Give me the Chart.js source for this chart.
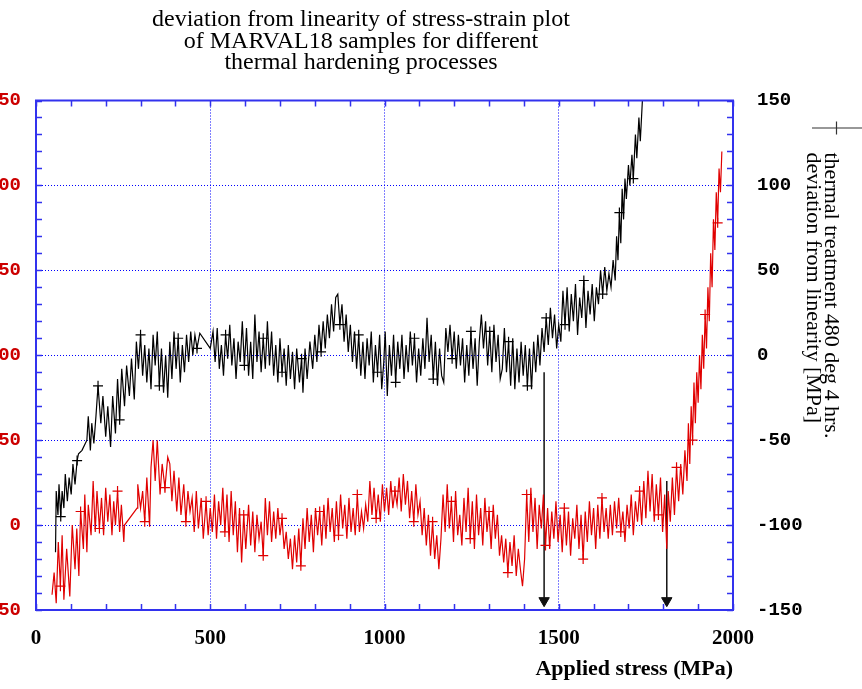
<!DOCTYPE html>
<html>
<head>
<meta charset="utf-8">
<script src="https://cdn.jsdelivr.net/npm/chart.js@4.4.0/dist/chart.umd.min.js"></script>
<style>
  html, body { margin: 0; padding: 0; background: #fff; overflow: hidden; }
  #wrap { position: relative; width: 862px; height: 689px; overflow: hidden; }
  #plot { position: absolute; left: -140px; top: 0; }
</style>
</head>
<body>
<div id="wrap"><canvas id="plot" width="1002" height="689"></canvas></div>
<script>
// thermal treatment 480 deg 4 hrs. (right axis)
const blackStress = [56,58,63,66,71,75,80,84,90,95,101,106,112,118,122,132,146,150,156,160,166,172,178,186,192,200,206,214,220,228,234,240,246,254,260,268,274,282,288,294,300,
  306,312,318,324,330,336,342,348,354,360,366,372,378,384,390,396,402,408,414,420,426,432,438,444,450,456,462,470,500,
  508,514,520,526,532,538,544,550,556,562,568,574,580,586,592,598,604,610,616,622,628,634,640,646,652,658,664,670,676,682,688,694,700,706,712,718,724,730,736,742,748,756,762,766,772,778,786,794,
  800,806,812,818,824,830,836,842,848,854,860,866,872,878,884,890,896,902,908,914,920,926,932,938,944,950,956,962,968,974,980,986,992,998,
  1002,1008,1014,1020,1026,1032,1038,1044,1050,1056,1062,1068,1074,1080,1086,1092,1098,1104,1110,1116,1122,1128,1134,1140,1146,1152,1158,1164,1170,1176,1182,1188,1194,
  1200,1206,1212,1218,1224,1230,1236,1242,1248,1254,1260,1266,1272,1278,1284,1290,1296,1302,1308,1314,1320,1326,1332,1338,1344,1350,1356,1362,1368,1374,1380,1386,1392,1398,
  1404,1410,1416,1422,1428,1434,1440,1446,1452,1458,1464,1470,1476,1482,1488,1494,1500,1506,1512,1518,1524,1530,1536,1542,1548,1554,1560,1566,1572,1578,1584,1590,1596,
  1602,1608,1614,1620,1626,1632,1638,1644,1650,1656,1662,1666,1670,1674,1678,1682,1686,1690,1694,1700,1704,1710,1714,1720,1724,1730,1734,1740,1745];
const blackDev = [-116,-80,-94,-76,-95,-80,-90,-70,-86,-72,-82,-64,-76,-62,-58,-56,-50,-36,-56,-40,-52,-36,-18,-40,-24,-48,-30,-54,-24,-46,-14,-38,-8,-30,-6,-24,-2,-26,8,-8,12,
  -12,6,-16,4,-20,12,-6,14,-18,4,-22,0,-25,8,-14,14,-8,10,-16,6,-10,12,-4,14,0,12,4,13,4,
  14,-4,16,-8,6,-12,12,-2,18,-6,10,-14,8,-4,20,-6,16,-12,8,-14,24,-4,14,-10,10,-8,20,-6,14,-12,6,-16,10,-10,4,-18,6,-14,2,-20,4,-16,-2,-22,4,-14,8,-8,
  12,-4,18,2,20,4,24,10,30,14,34,36,18,30,8,24,2,18,-4,14,-8,12,-12,8,-14,10,-6,14,-16,6,-10,12,-20,-4,
  14,-24,6,-12,12,-16,8,-8,12,-14,6,-10,14,-6,10,-16,4,-12,10,-8,22,-4,12,-14,8,-18,4,-12,-16,16,2,18,-2,
  14,-8,12,-6,10,-16,6,-12,14,-8,10,-18,8,24,4,20,-6,14,-10,18,-4,12,-14,-8,16,-10,8,-18,10,-20,4,-16,8,-12,
  6,-18,4,-20,8,-10,12,-6,16,2,22,6,28,10,24,4,18,8,38,18,40,14,36,20,42,12,34,22,44,16,38,24,42,
  20,40,30,50,36,52,38,48,40,56,44,70,56,84,66,98,80,104,92,112,100,118,104,130,116,140,126,150,158];

// thermal treatment, second process (left axis)
const redStress = [46,52,58,64,70,75,80,88,97,104,112,117,123,128,136,140,146,150,158,164,170,175,182,188,194,200,206,212,218,223,228,234,240,245,252,254,290,292,
  300,306,312,318,326,330,336,342,348,356,362,370,378,384,390,396,404,410,416,424,430,436,442,448,454,460,466,474,480,488,494,
  500,506,512,518,524,530,536,542,548,554,560,566,572,578,584,590,596,602,610,616,622,628,634,640,646,652,658,664,670,676,682,688,694,
  700,706,712,718,724,730,736,742,748,754,760,766,772,778,784,790,796,802,808,814,820,826,832,838,844,850,856,862,868,874,880,886,892,898,
  904,910,916,922,928,934,940,946,952,958,964,970,976,982,988,994,1000,1006,1012,1018,1024,1030,1036,1042,1048,1054,1060,1066,1072,1078,1084,1090,1096,
  1102,1108,1114,1120,1126,1132,1138,1144,1150,1156,1162,1168,1174,1180,1186,1192,1198,1204,1210,1216,1222,1228,1234,1240,1246,1252,1258,1264,1270,1276,1282,1288,1294,
  1300,1306,1312,1318,1324,1330,1336,1342,1348,1354,1360,1366,1372,1378,1384,1390,1396,1402,1408,1414,1420,1426,1432,1438,1444,1450,1456,1462,1468,1474,1480,1486,1492,1498,
  1504,1510,1516,1522,1528,1534,1540,1546,1552,1558,1564,1570,1576,1582,1588,1594,1600,1606,1612,1618,1624,1630,1636,1642,1648,1654,1660,1666,1672,1678,1684,1690,1696,
  1702,1708,1714,1720,1726,1732,1738,1744,1750,1756,1762,1768,1774,1780,1786,1792,1798,1804,1810,1814,1820,1826,1832,1838,1844,1850,1856,1862,1868,1872,1876,1880,1884,1888,
  1892,1896,1900,1904,1908,1912,1916,1920,1924,1928,1932,1936,1940,1944,1948,1952,1956,1960,1964,1968];
const redDev = [-41,-28,-46,-10,-36,-6,-44,-14,-42,0,-26,-2,-30,8,-14,18,-16,12,-6,26,-4,20,-2,16,-6,22,2,18,-6,14,0,20,-4,12,-10,0,10,24,
  10,20,2,28,-1,34,50,26,50,18,36,22,40,36,14,32,8,28,6,24,2,20,8,16,-4,20,-2,16,-8,14,-6,
  10,-4,18,-8,14,0,22,-4,18,-10,20,-6,14,-16,10,-22,6,-14,12,-12,8,-16,6,-8,2,-18,16,-6,14,-10,8,-8,10,
  -6,4,-14,-4,-20,-8,-26,-6,-22,-2,-24,4,-14,10,-10,6,-16,10,-6,8,-12,12,-8,16,-4,10,-10,14,-6,18,-2,12,-8,16,
  -4,10,-6,18,-4,8,-2,12,2,26,6,22,4,18,2,24,8,22,6,26,10,20,12,28,8,30,12,26,4,20,2,24,6,
  14,-6,10,-12,6,-18,2,-20,-6,-26,-8,18,-4,24,-2,14,-10,20,-6,6,-12,16,-4,22,-8,14,-14,18,-6,10,-12,16,-4,
  8,-14,12,-8,6,-18,-6,-22,-8,-28,-10,-24,-6,-30,-14,-26,-36,-20,18,-10,22,-4,16,-14,12,-2,18,-12,10,-14,8,-8,14,-10,
  6,-16,10,-12,8,-18,4,-8,12,-14,6,-20,8,-10,14,-6,10,-14,12,-8,16,-4,10,-8,12,-6,14,-2,16,-4,8,-10,12,
  -2,18,-6,14,2,20,0,26,4,32,8,30,2,24,6,28,-4,18,-14,20,2,28,6,34,14,36,18,44,26,60,36,70,50,84,
  60,90,72,100,80,112,92,124,104,140,120,160,140,180,162,196,178,210,196,220];

// vertical arrows down to the stress axis
const arrowStress = [1458, 1810];
const arrowTop = [-10, -74];
const arrowTip = -144.5;

const titleLines = ['deviation from linearity of stress-strain plot', 'of MARVAL18 samples for different', 'thermal hardening processes'];
const keyLabel = 'thermal treatment 480 deg 4 hrs.';
const rightAxisLabel = 'deviation from linearity [MPa]';

const frameBlue = '#3232ee';
const gridBlue = '#0000ff';

function zip(xs, ys) {
  const out = [];
  for (let i = 0; i < xs.length; i++) {
    out.push({x: xs[i], y: ys[i]});
  }
  return out;
}

function crossRadius(ctx) {
  return ctx.dataIndex % 9 === 4 ? 5 : 0;
}

function majorGrid(c) {
  if (!c.tick) return 'rgba(0,0,0,0)';
  const v = c.tick.value;
  const s = c.scale;
  if (v % 50 !== 0 || v <= s.min || v >= s.max) return 'rgba(0,0,0,0)';
  if (s.axis === 'x' && v % 500 !== 0) return 'rgba(0,0,0,0)';
  return gridBlue;
}

let datasets = [
  {
    label: keyLabel,
    data: zip(blackStress, blackDev),
    yAxisID: 'y2',
    borderColor: '#000',
    borderWidth: 1.2,
    pointStyle: 'cross',
    pointRadius: crossRadius,
    pointBorderColor: '#000',
    pointBorderWidth: 1.2,
    tension: 0
  },
  {
    label: 'second process',
    data: zip(redStress, redDev),
    yAxisID: 'y',
    borderColor: '#e00000',
    borderWidth: 1.2,
    pointStyle: 'cross',
    pointRadius: crossRadius,
    pointBorderColor: '#e00000',
    pointBorderWidth: 1.2,
    tension: 0
  }
];

for (let i = 0; i < arrowStress.length; i++) {
  datasets.push({
    label: 'arrow' + i,
    data: [{x: arrowStress[i], y: arrowTop[i]}, {x: arrowStress[i], y: arrowTip}],
    yAxisID: 'y2',
    borderColor: '#111',
    backgroundColor: '#111',
    borderWidth: 1.5,
    pointStyle: 'triangle',
    rotation: 180,
    pointRadius: [0, 6],
    pointBorderWidth: 1
  });
}

// frame, inward tick marks and the key on the right
const decorations = {
  id: 'decorations',
  afterDraw(chart) {
    const {ctx, chartArea: a, scales} = chart;
    ctx.save();
    ctx.strokeStyle = frameBlue;
    ctx.lineWidth = 1.5;
    ctx.beginPath();
    scales.x.ticks.forEach(t => {
      const px = Math.round(scales.x.getPixelForValue(t.value)) + 0.5;
      ctx.moveTo(px, a.bottom); ctx.lineTo(px, a.bottom - 6);
      ctx.moveTo(px, a.top); ctx.lineTo(px, a.top + 6);
    });
    scales.y2.ticks.forEach(t => {
      const py = Math.round(scales.y2.getPixelForValue(t.value)) + 0.5;
      ctx.moveTo(a.left, py); ctx.lineTo(a.left + 6, py);
      ctx.moveTo(a.right, py); ctx.lineTo(a.right - 6, py);
    });
    ctx.stroke();
    ctx.lineWidth = 2;
    ctx.strokeRect(a.left, a.top, a.right - a.left, a.bottom - a.top);

    // key sample
    ctx.strokeStyle = '#333';
    ctx.lineWidth = 1.2;
    ctx.beginPath();
    ctx.moveTo(a.right + 79, a.top + 27.5); ctx.lineTo(a.right + 140, a.top + 27.5);
    ctx.moveTo(a.right + 103.5, a.top + 21); ctx.lineTo(a.right + 103.5, a.top + 34);
    ctx.stroke();

    ctx.fillStyle = '#000';
    ctx.font = '22px "Liberation Serif"';
    ctx.textAlign = 'left';
    ctx.textBaseline = 'middle';
    ctx.translate(a.right + 98, a.top + 52);
    ctx.rotate(Math.PI / 2);
    ctx.fillText(keyLabel, 0, 0);
    ctx.fillText(rightAxisLabel, 0, 18);
    ctx.restore();
  }
};

const config = {
  type: 'line',
  data: {datasets: datasets},
  options: {
    responsive: false,
    animation: false,
    devicePixelRatio: 1,
    layout: {padding: 0},
    plugins: {
      legend: {display: false},
      tooltip: {enabled: false},
      title: {
        display: true,
        text: titleLines,
        color: '#000',
        font: {family: 'Liberation Serif', size: 24, weight: 'normal', lineHeight: '21.5px'},
        padding: {top: 9, bottom: 27}
      }
    },
    scales: {
      x: {
        type: 'linear',
        position: 'bottom',
        min: 0,
        max: 2000,
        afterFit: (s) => { s.height = 79; },
        ticks: {
          stepSize: 100,
          autoSkip: false,
          maxRotation: 0,
          padding: 16,
          color: '#000',
          font: {family: 'Liberation Serif', size: 21, weight: 'bold'},
          callback: (v) => v % 500 === 0 ? v : ''
        },
        grid: {color: majorGrid, lineWidth: 1, drawTicks: false},
        border: {display: false, dash: [1, 2]},
        title: {
          display: true,
          text: 'Applied stress (MPa)',
          align: 'end',
          color: '#000',
          font: {family: 'Liberation Serif', size: 22, weight: 'bold'},
          padding: {top: 0, bottom: 6}
        }
      },
      y: {
        type: 'linear',
        position: 'left',
        min: -50,
        max: 250,
        afterFit: (s) => { s.width = 176; },
        ticks: {
          stepSize: 10,
          autoSkip: false,
          padding: 7,
          color: '#cc0000',
          font: {family: 'Liberation Mono', size: 19, weight: 'bold'},
          callback: (v) => v % 50 === 0 ? v : ''
        },
        grid: {display: false},
        border: {display: false}
      },
      y2: {
        type: 'linear',
        position: 'right',
        min: -150,
        max: 150,
        afterFit: (s) => { s.width = 129; },
        ticks: {
          stepSize: 10,
          autoSkip: false,
          padding: 24,
          color: '#000',
          font: {family: 'Liberation Mono', size: 19, weight: 'bold'},
          callback: (v) => v % 50 === 0 ? v : ''
        },
        grid: {color: majorGrid, lineWidth: 1, drawTicks: false},
        border: {display: false, dash: [1, 2]}
      }
    }
  },
  plugins: [decorations]
};

let ctx = document.getElementById('plot').getContext('2d');
window.myChart = new Chart(ctx, config);
</script>
</body>
</html>
